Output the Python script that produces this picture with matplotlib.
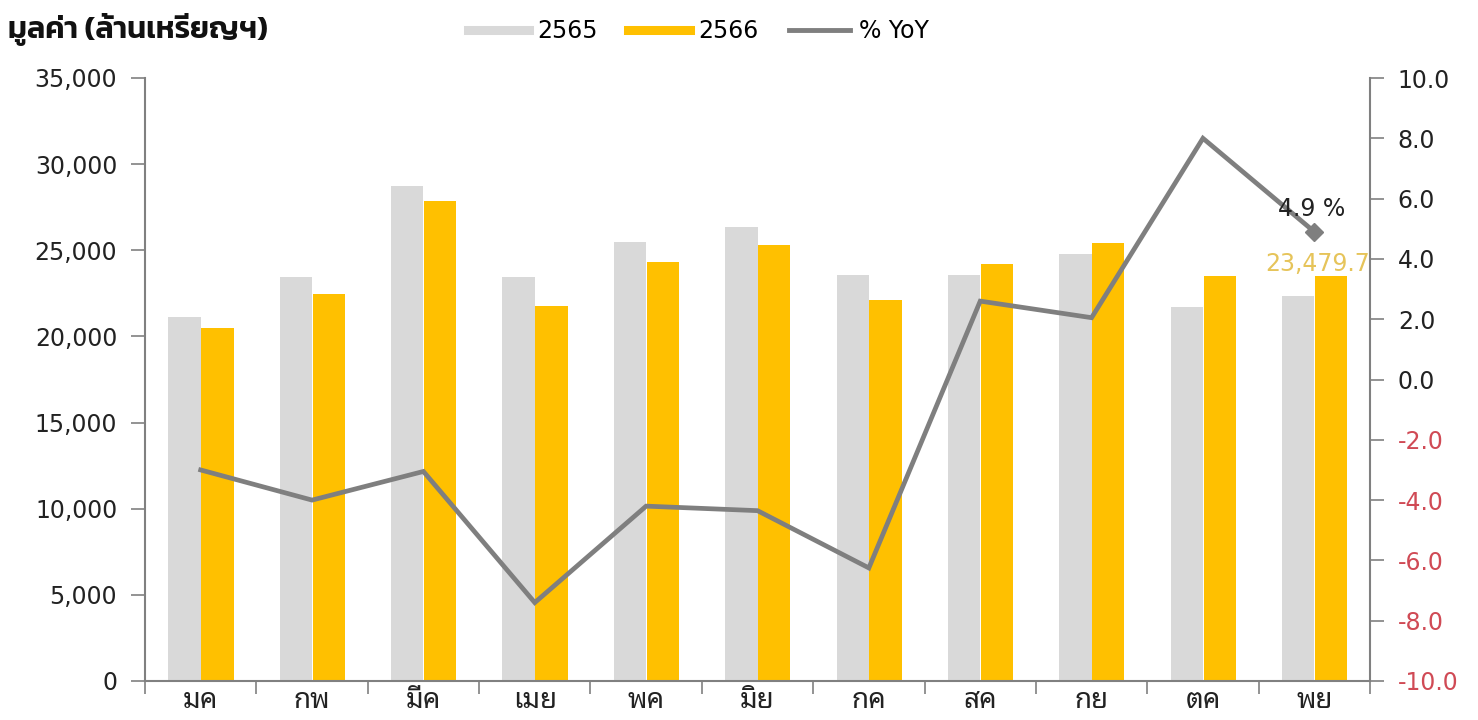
import matplotlib
matplotlib.use('Agg')
import matplotlib.pyplot as plt
from matplotlib import font_manager as fm
from matplotlib.lines import Line2D
import numpy as np

months = ['มค', 'กพ', 'มีค', 'เมย', 'พค', 'มิย', 'กค', 'สค', 'กย', 'ตค', 'พย']
v2565 = [21100, 23450, 28750, 23450, 25480, 26350, 23560, 23560, 24780, 21700, 22350]
v2566 = [20490, 22460, 27860, 21760, 24320, 25300, 22110, 24200, 25420, 23500, 23479.7]
yoy = [-3.0, -4.0, -3.05, -7.4, -4.2, -4.35, -6.25, 2.6, 2.05, 8.0, 4.9]
left_ticks = [0, 5000, 10000, 15000, 20000, 25000, 30000, 35000]
right_ticks = [-10, -8, -6, -4, -2, 0, 2, 4, 6, 8, 10]
title = 'มูลค่า (ล้านเหรียญฯ)'
legend_labels = ['2565', '2566', '% YoY']

names = {f.name for f in fm.fontManager.ttflist}
def pick(cands):
    for c in cands:
        if c in names:
            return c
    return 'DejaVu Sans'

title_font = pick(['Kanit', 'Prompt', 'Noto Sans Thai', 'Sarabun'])
thai_font = pick(['Noto Sans Thai Looped', 'Sarabun', 'Tahoma', 'Noto Sans Thai'])
num_font = pick(['Verdana', 'DejaVu Sans'])
plt.rcParams['font.family'] = [num_font]

GRAY = '#d9d9d9'
YELLOW = '#ffc000'
LINE = '#7f7f7f'
AX = '#808080'
FS = 17

fig = plt.figure(figsize=(14.78, 7.2), dpi=100)
ax = fig.add_axes([145/1478, 1-681/720, (1370-145)/1478, (681-78)/720])
ax2 = ax.twinx()

x = np.arange(len(months))
w = 0.29
ax.bar(x - 0.145, v2565, width=w, color=GRAY, zorder=2)
ax.bar(x + 0.15, v2566, width=w, color=YELLOW, zorder=2)
ax.set_xlim(-0.5, len(months) - 0.5)
ax.set_ylim(0, 35000)
ax.set_yticks(left_ticks)
ax.set_yticklabels([f'{t:,}' for t in left_ticks])

ax2.plot(x, yoy, color=LINE, lw=3.4, zorder=3, solid_joinstyle='miter')
ax2.plot([x[-1]], [yoy[-1]], marker='D', color=LINE, ms=9, zorder=4)
ax2.set_ylim(-10, 10)
ax2.set_yticks(right_ticks)
ax2.set_yticklabels([f'{t:.1f}' for t in right_ticks])
for lbl, t in zip(ax2.get_yticklabels(), right_ticks):
    lbl.set_color('#d04a55' if t < 0 else '#222222')

# x ticks at category boundaries, labels at centers
ax.set_xticks(np.arange(-0.5, len(months) + 0.5, 1.0))
ax.set_xticklabels([])
ax.set_xticks(x, minor=True)
ax.set_xticklabels(months, minor=True, fontfamily=thai_font, fontsize=20, color='#222222')
ax.tick_params(axis='x', which='minor', length=0, pad=4)
ax.tick_params(axis='x', which='major', length=9, direction='out', color=AX, width=1.2)
ax.tick_params(axis='y', length=10, color=AX, width=1.2, labelsize=FS, labelcolor='#222222', pad=10)
ax2.tick_params(axis='y', length=10, color=AX, width=1.2, labelsize=FS, pad=10)

for a in (ax, ax2):
    a.spines['top'].set_visible(False)
    for s in ('left', 'right', 'bottom'):
        a.spines[s].set_color(AX)
        a.spines[s].set_linewidth(1.5)
ax.spines['right'].set_visible(False)
ax2.spines['left'].set_visible(False)
ax2.spines['bottom'].set_visible(False)

# annotations
ax2.text(x[-1] + 0.28, yoy[-1] + 0.75, f'{yoy[-1]:.1f} %', ha='right', va='center',
         fontsize=FS, color='#222222')
ax.text(x[-1] + 0.5, v2566[-1] + 750, f'{v2566[-1]:,.1f}', ha='right', va='center',
        fontsize=FS, color='#e6c45a', zorder=5)

fig.text(8/1478, 1 - 30/720, title, fontfamily=title_font, fontweight='semibold',
         fontsize=22, ha='left', va='center', color='#111111')

handles = [Line2D([], [], color=GRAY, lw=6.5),
           Line2D([], [], color=YELLOW, lw=6.5),
           Line2D([], [], color=LINE, lw=3.5)]
fig.legend(handles, legend_labels, loc='center', bbox_to_anchor=(698/1478, 1 - 31/720),
           ncol=3, frameon=False, fontsize=FS, handlelength=2.6, columnspacing=1.3,
           handletextpad=0.35)

fig.savefig('out.png', dpi=100)
